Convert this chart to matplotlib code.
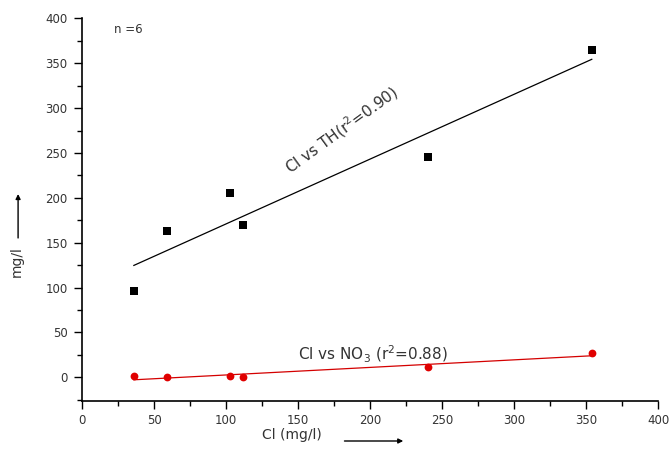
import numpy as np
import matplotlib.pyplot as plt

plt.rcParams['font.family'] = ['DejaVu Sans']

# data
cl = [36, 59, 103, 112, 240, 354]
th = [96, 163, 205, 170, 246, 365]
no3 = [1, 0.5, 1.5, 0, 11.5, 27]

fig = plt.figure(figsize=(6.7, 4.5), dpi=100)
ax = fig.add_axes([0.1224, 0.1096, 0.8597, 0.8497])

# linear fits
x_fit = np.array([min(cl), max(cl)])
c_th = np.polyfit(cl, th, 1)
c_no3 = np.polyfit(cl, no3, 1)
ax.plot(x_fit, np.polyval(c_th, x_fit), color='black', lw=0.9)
ax.plot(x_fit, np.polyval(c_no3, x_fit), color='#d40000', lw=0.9)

# points
ax.plot(cl, th, 's', color='black', ms=6.3, mew=0)
ax.plot(cl, no3, 'o', color='#e00000', ms=5.6, mew=0)

ax.set_xlim(0, 400)
ax.set_ylim(-26, 400)
ax.set_xticks(np.arange(0, 401, 50))
ax.set_xticks(np.arange(25, 400, 50), minor=True)
ax.set_yticks(np.arange(0, 401, 50))
ax.set_yticks(np.arange(-25, 400, 50), minor=True)
ax.tick_params(which='major', direction='out', length=5.5, width=1,
               labelsize=8.5, colors='black', labelcolor='#333333')
ax.tick_params(which='minor', direction='out', length=3.5, width=1)
ax.tick_params(axis='x', pad=4)
ax.tick_params(axis='y', pad=5)

for s in ['top', 'right']:
    ax.spines[s].set_visible(False)
for s in ['left', 'bottom']:
    ax.spines[s].set_linewidth(1.2)

# annotations
ax.text(0.056, 0.972, 'n =6', transform=ax.transAxes, fontsize=8.5,
        color='#333333', ha='left', va='center')
ax.text(0.451, 0.707, 'Cl vs TH(r$^2$=0.90)', transform=ax.transAxes,
        fontsize=11, color='#333333', rotation=36,
        ha='center', va='center', rotation_mode='anchor')
ax.text(0.505, 0.122, 'Cl vs NO$_3$ (r$^2$=0.88)', transform=ax.transAxes,
        fontsize=11, color='#333333', ha='center', va='center')

# axis labels with arrows
fig.text(0.436, 0.018, 'Cl (mg/l)', fontsize=10, color='#333333',
         ha='center', va='bottom')
ax.annotate('', xy=(0.606, 0.02), xytext=(0.51, 0.02),
            xycoords='figure fraction', textcoords='figure fraction',
            arrowprops=dict(arrowstyle='-|>', color='black', lw=1,
                            mutation_scale=7))
fig.text(0.025, 0.418, 'mg/l', fontsize=10, color='#333333',
         ha='center', va='center', rotation=90)
ax.annotate('', xy=(0.027, 0.575), xytext=(0.027, 0.465),
            xycoords='figure fraction', textcoords='figure fraction',
            arrowprops=dict(arrowstyle='-|>', color='black', lw=1,
                            mutation_scale=7))

fig.savefig('out.png', dpi=100)
